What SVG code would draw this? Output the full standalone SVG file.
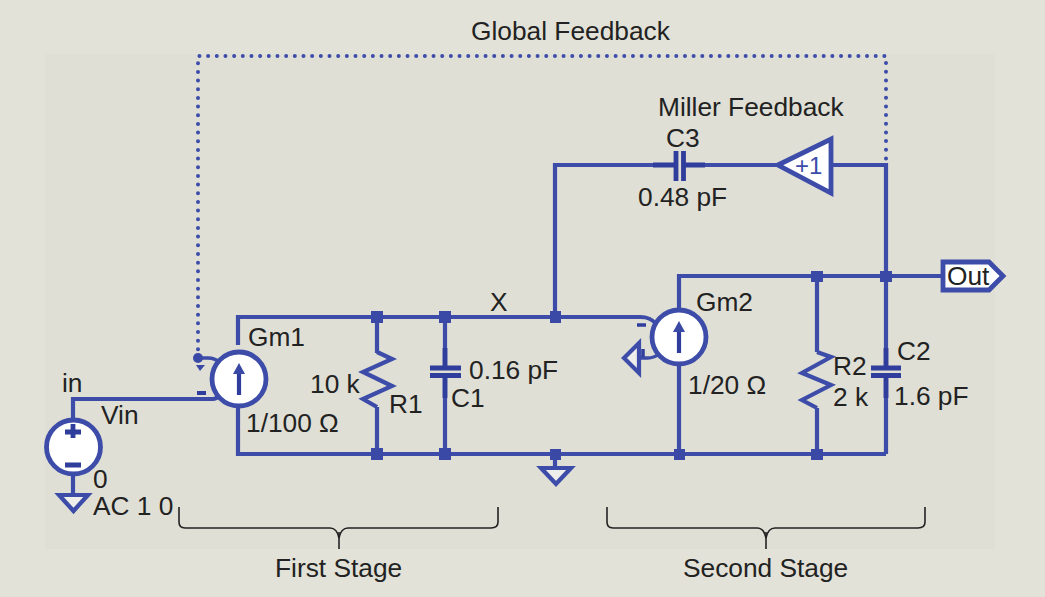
<svg xmlns="http://www.w3.org/2000/svg" width="1045" height="597" viewBox="0 0 1045 597">
<style>
text{font-family:"Liberation Sans",Arial,sans-serif;font-size:26.3px;fill:#222}
.w{fill:none;stroke:#3c4ca8;stroke-width:4.2;stroke-linejoin:miter}
.t{stroke-width:3.4}
.d{fill:none;stroke:#3c4ca8;stroke-width:4;stroke-linecap:round;stroke-dasharray:0 8.67}
.k{fill:#fff;stroke:#3c4ca8;stroke-width:4.8}
.s{fill:#eeeeea;stroke:#3c4ca8;stroke-width:4.2}
.c{fill:none;stroke:#2f3d9c;stroke-width:4.8}
.b{fill:none;stroke:#222;stroke-width:1.6}
.j{fill:#3a49a6}
</style>
<rect width="1045" height="597" fill="#e2e2d8"/>
<rect x="45" y="54" width="950" height="495" fill="#dfdfd6"/>
<g id="connectors">
<path class="w" d="M238 345V317H640C648 317 652 319 656 324M238 407V454H886"/>
<path class="w" d="M73 422V399H213C216 399 218 397 220 395"/>
<path class="w" d="M73 474V496"/>
<path class="w" d="M377 317V353M377 407V454"/>
<path class="w" d="M445 317V368M445 376V454"/>
<path class="w" d="M555 317V165H676M683 165H778"/>
<path class="w" d="M832 165H886V276"/>
<path class="w" d="M679 345V276H944"/>
<path class="w" d="M679 360V454"/>
<path class="w" d="M817 276V352M817 408V454"/>
<path class="w" d="M886 276V368M886 376V454"/>
<path class="w" d="M555 454V470"/>
<path class="d" d="M198 358V56H886V163"/>
<path class="w t" d="M198 358H208C213 358 216 359 219 362"/>
<path class="w t" d="M639 358H648C652 358 655 357 659 354"/>
</g>
<g id="junctions">
<rect class="j" x="371" y="311" width="12" height="12"/>
<rect class="j" x="439" y="311" width="12" height="12"/>
<rect class="j" x="550" y="311" width="11" height="12"/>
<rect class="j" x="371" y="448" width="12" height="12"/>
<rect class="j" x="439" y="448" width="12" height="12"/>
<rect class="j" x="550" y="449" width="11" height="11"/>
<rect class="j" x="674" y="449" width="11" height="11"/>
<rect class="j" x="811" y="449" width="12" height="11"/>
<rect class="j" x="811" y="271" width="12" height="11"/>
<rect class="j" x="880" y="271" width="12" height="11"/>
</g>
<g id="vin">
<circle class="k" cx="73.500" cy="447" r="27"/>
<path class="w" d="M65 432H81M73 424V438M65 465H81" style="stroke-width:4.800;stroke:#2f3d9c"/>
<path class="s" d="M59 495H88L73.500 511Z"/>
<text x="62" y="392">in</text><text x="101" y="424">Vin</text><text x="93" y="488">0</text><text x="93" y="515">AC 1 0</text>
</g>
<g id="gm1">
<circle class="k" cx="239" cy="379" r="27"/>
<path class="w" d="M239 395V372" style="stroke:#2f3d9c"/><path class="j" d="M233 374L239 363L245 374Z"/>
<circle class="j" cx="198" cy="358" r="5"/><path class="j" d="M196 365H205L200 371Z"/>
<path class="c" d="M197 393H206" style="stroke-width:4"/>
<text x="248" y="346">Gm1</text><text x="246" y="432">1/100 Ω</text>
</g>
<g id="r1">
<path class="w" d="M377 352L392 359L363 372L392 386L363 399L377 407"/>
<text x="310" y="393">10 k</text><text x="389" y="413">R1</text>
</g>
<g id="c1">
<path class="c" d="M430 368H461M430 375.500H461M445 348V368M445 376V398"/>
<text x="469" y="379">0.16 pF</text><text x="451" y="407">C1</text>
</g>
<g id="gm2">
<circle class="k" cx="679" cy="337" r="27"/>
<path class="w" d="M679 353V330" style="stroke:#2f3d9c"/><path class="j" d="M673 332L679 321L685 332Z"/>
<path class="c" d="M637 325H646" style="stroke-width:3.500"/>
<path class="s" d="M639 343V373L624 358Z"/>
<path class="c" d="M643 349V357" style="stroke-width:3.500"/>
<text x="696" y="311">Gm2</text><text x="688" y="394">1/20 Ω</text>
</g>
<g id="r2">
<path class="w" d="M817 352L831 357L802 373L831 385L802 400L817 408"/>
<text x="833" y="375">R2</text><text x="833" y="406">2 k</text>
</g>
<g id="c2">
<path class="c" d="M871 368H901M871 375.500H901M886 348V368M886 376V398"/>
<text x="897" y="360">C2</text><text x="894" y="405">1.6 pF</text>
</g>
<g id="c3">
<path class="c" d="M676 151V181M683.500 151V181"/>
<path class="c" d="M653 165H676M684 165H705"/>
<text x="666" y="147">C3</text><text x="638" y="206">0.48 pF</text>
</g>
<g id="buffer">
<path class="k" d="M778 165L831 139V193Z"/>
<text x="795" y="174" style="font-size:24px;fill:#3c4ca8">+1</text>
</g>
<g id="out">
<path class="k" d="M943 262H989L1003 276L989 290H943Z"/>
<text x="947" y="285">Out</text>
</g>
<g id="ground">
<path class="s" d="M541 468H571L556 484Z"/>
</g>
<g id="labels">
<text x="471" y="40">Global Feedback</text>
<text x="658" y="116">Miller Feedback</text>
<text x="490" y="311">X</text>
<text x="275" y="577">First Stage</text>
<text x="683" y="577">Second Stage</text>
<path class="b" d="M179 507V522Q179 528 185 528H330Q337 528 339 538Q341 528 348 528H491Q498 528 498 522V507"/>
<path class="b" d="M339 532V549"/>
<path class="b" d="M607 507V522Q607 528 613 528H757Q764 528 766 538Q768 528 775 528H918Q925 528 925 522V507"/>
<path class="b" d="M766 532V549"/>
</g>
</svg>
